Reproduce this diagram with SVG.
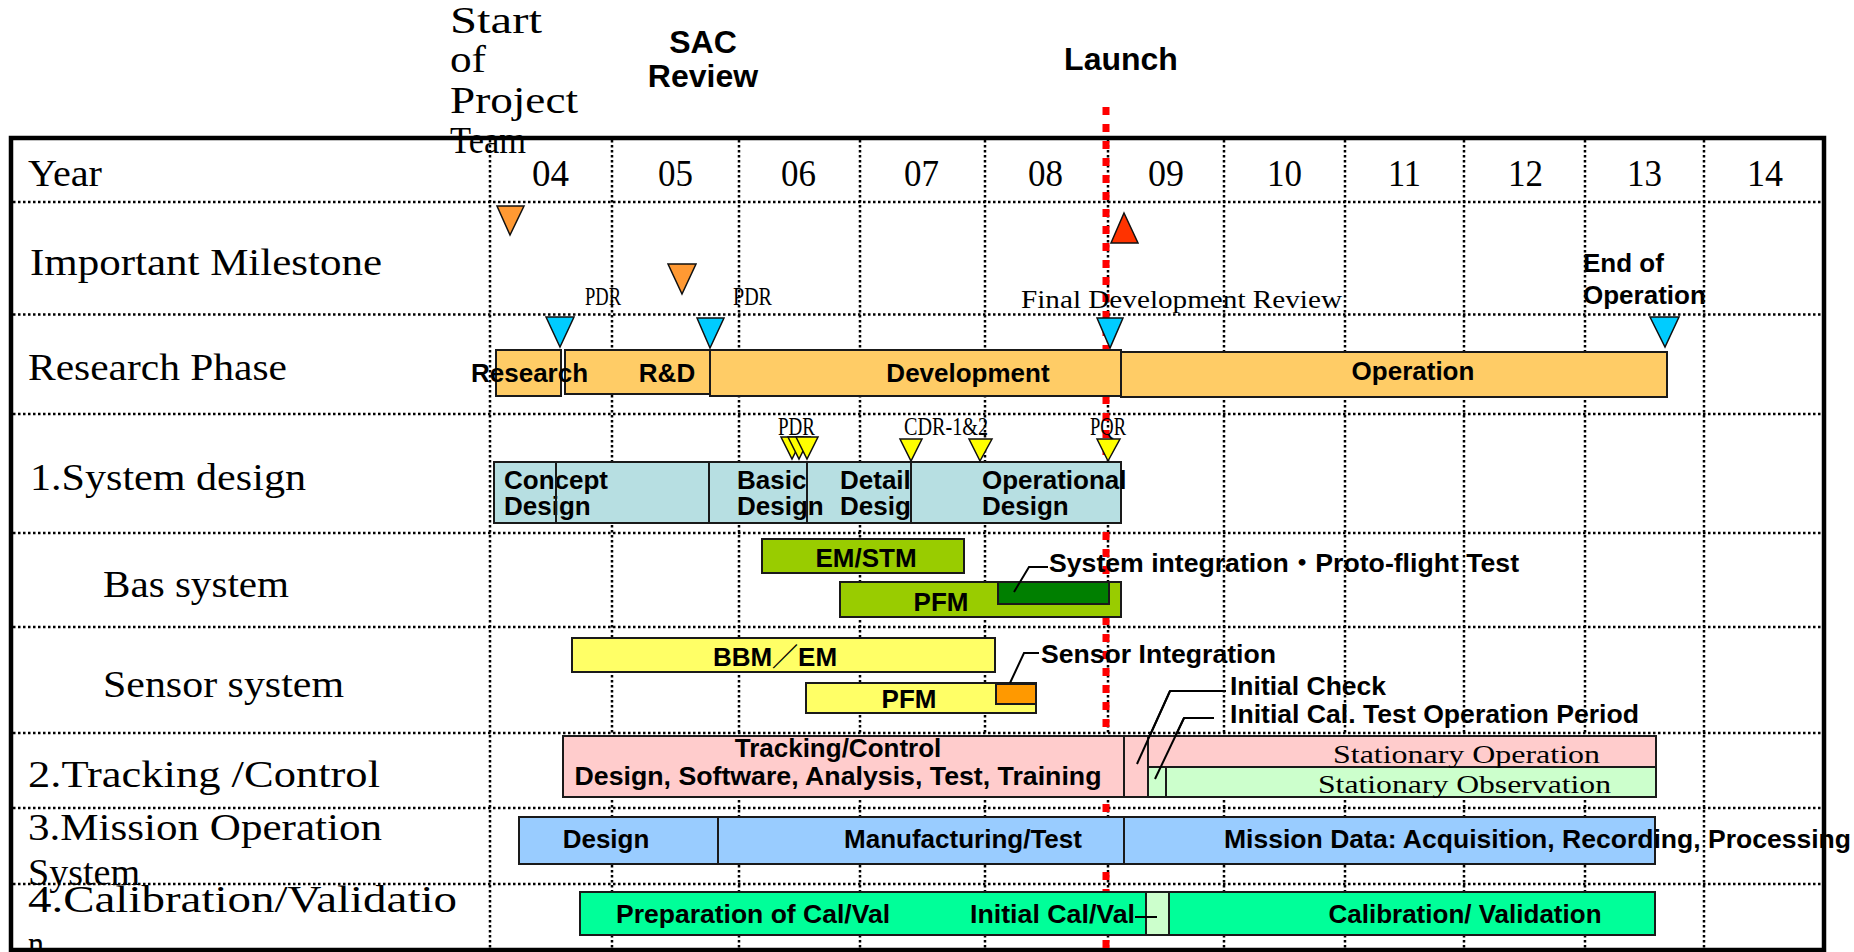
<svg xmlns="http://www.w3.org/2000/svg" width="1854" height="952" viewBox="0 0 1854 952">
<style>
.m{font-family:"Liberation Serif","Noto Sans CJK JP",serif;font-size:38px;fill:#000}
.ms{font-family:"Liberation Serif","Noto Sans CJK JP",serif;font-size:25px;fill:#000}
.b{font-family:"Liberation Sans","Noto Sans CJK JP",sans-serif;font-weight:bold;font-size:26px;fill:#000}
.bh{font-family:"Liberation Sans",sans-serif;font-weight:bold;font-size:32px;fill:#000}
.c{text-anchor:middle}
.grid{stroke:#000;stroke-width:2.5;stroke-dasharray:2.5 2.5;fill:none}
.box{stroke:#1a1a1a;stroke-width:2}
.tri{stroke:#111;stroke-width:1.5}
.call{fill:none;stroke:#000;stroke-width:2}
.ph{fill:#FFCC66}
.sd{fill:#B7DFE2}
.lg{fill:#99CC00}
.ye{fill:#FFFF66}
.pk{fill:#FFCCCC}
.lgr{fill:#CCFFCC}
.bl{fill:#99CCFF}
.gr{fill:#00FF99}
</style>
<rect width="1854" height="952" fill="#fff"/>
<g id="grid">
<path class="grid" d="M13 202H1822M13 314.5H1822M13 414H1822M13 533H1822M13 627H1822M13 733H1822M13 808H1822M13 884H1822"/>
<path class="grid" d="M490 140V950M612 140V950M739 140V950M860 140V950M985 140V950M1108 140V950M1224 140V950M1345 140V950M1464 140V950M1585 140V950M1704 140V950"/>
</g>
<g id="frame"><rect x="11" y="138" width="1813" height="812" fill="none" stroke="#000" stroke-width="4.5"/></g>
<g id="launch-line"><line x1="1106" y1="107" x2="1106" y2="952" stroke="#FF0000" stroke-width="7" stroke-dasharray="8 9"/></g>
<g id="row-labels">
<text class="m" x="28" y="186" textLength="74" lengthAdjust="spacingAndGlyphs">Year</text>
<text class="m" x="30" y="275" textLength="352" lengthAdjust="spacingAndGlyphs">Important Milestone</text>
<text class="m" x="28" y="380" textLength="259" lengthAdjust="spacingAndGlyphs">Research Phase</text>
<text class="m" x="30" y="490" textLength="276" lengthAdjust="spacingAndGlyphs">1.System design</text>
<text class="m" x="103" y="597" textLength="186" lengthAdjust="spacingAndGlyphs">Bas system</text>
<text class="m" x="103" y="697" textLength="241" lengthAdjust="spacingAndGlyphs">Sensor system</text>
<text class="m" x="28" y="787" textLength="352" lengthAdjust="spacingAndGlyphs">2.Tracking /Control</text>
<text class="m" x="28" y="840" textLength="354" lengthAdjust="spacingAndGlyphs">3.Mission Operation</text>
<text class="m" x="28" y="885" textLength="112" lengthAdjust="spacingAndGlyphs">System</text>
<text class="m" x="28" y="912" textLength="429" lengthAdjust="spacingAndGlyphs">4.Calibration/Validatio</text>
<text class="m" x="28" y="957" textLength="16" lengthAdjust="spacingAndGlyphs">n</text>
</g>
<g id="years">
<text class="m" x="532" y="186" textLength="37" lengthAdjust="spacingAndGlyphs">04</text>
<text class="m" x="658" y="186" textLength="35" lengthAdjust="spacingAndGlyphs">05</text>
<text class="m" x="781" y="186" textLength="35" lengthAdjust="spacingAndGlyphs">06</text>
<text class="m" x="904" y="186" textLength="35" lengthAdjust="spacingAndGlyphs">07</text>
<text class="m" x="1028" y="186" textLength="35" lengthAdjust="spacingAndGlyphs">08</text>
<text class="m" x="1148" y="186" textLength="36" lengthAdjust="spacingAndGlyphs">09</text>
<text class="m" x="1267" y="186" textLength="35" lengthAdjust="spacingAndGlyphs">10</text>
<text class="m" x="1388" y="186" textLength="33" lengthAdjust="spacingAndGlyphs">11</text>
<text class="m" x="1508" y="186" textLength="35" lengthAdjust="spacingAndGlyphs">12</text>
<text class="m" x="1627" y="186" textLength="35" lengthAdjust="spacingAndGlyphs">13</text>
<text class="m" x="1747" y="186" textLength="36" lengthAdjust="spacingAndGlyphs">14</text>
</g>
<g id="header">
<text class="m" x="450" y="33" textLength="92" lengthAdjust="spacingAndGlyphs">Start</text>
<text class="m" x="450" y="72" textLength="36" lengthAdjust="spacingAndGlyphs">of</text>
<text class="m" x="450" y="113" textLength="128" lengthAdjust="spacingAndGlyphs">Project</text>
<text class="m" x="450" y="153" textLength="76" lengthAdjust="spacingAndGlyphs">Team</text>
<text class="bh c" x="703" y="53">SAC</text>
<text class="bh c" x="703" y="87">Review</text>
<text class="bh c" x="1121" y="70">Launch</text>
</g>
<g id="milestones">
<polygon class="tri" fill="#FF9933" points="497,206 524,206 510,235"/>
<polygon class="tri" fill="#FF9933" points="668,264 696,264 682,294"/>
<polygon class="tri" fill="#FF3300" points="1124,213 1111,243 1138,243"/>
<text class="ms" x="585" y="305" textLength="36" lengthAdjust="spacingAndGlyphs">PDR</text>
<text class="ms" x="733" y="305" textLength="39" lengthAdjust="spacingAndGlyphs">PDR</text>
<text class="ms" x="1021" y="308" textLength="321" lengthAdjust="spacingAndGlyphs">Final Development Review</text>
<text class="b" x="1583" y="272">End of</text>
<text class="b" x="1583" y="304">Operation</text>
</g>
<g id="research-phase">
<rect class="box ph" x="496" y="350" width="65" height="46"/>
<rect class="box ph" x="565" y="350" width="145" height="44"/>
<rect class="box ph" x="710" y="350" width="411" height="46"/>
<rect class="box ph" x="1121" y="352" width="546" height="45"/>
<text class="b" x="471" y="382">Research</text>
<text class="b c" x="667" y="382">R&amp;D</text>
<text class="b c" x="968" y="382">Development</text>
<text class="b c" x="1413" y="380">Operation</text>
<polygon class="tri" fill="#00CCFF" points="546,317 574,317 560,347"/>
<polygon class="tri" fill="#00CCFF" points="697,318 724,318 710,348"/>
<polygon class="tri" fill="#00CCFF" points="1097,318 1123,318 1110,348"/>
<polygon class="tri" fill="#00CCFF" points="1650,317 1679,317 1665,347"/>
</g>
<g id="system-design">
<rect class="box sd" x="494" y="462" width="215" height="61"/>
<rect class="box sd" x="709" y="462" width="98" height="61"/>
<rect class="box sd" x="807" y="462" width="104" height="61"/>
<text class="b" x="504" y="489">Concept</text>
<text class="b" x="504" y="515">Design</text>
<text class="b" x="840" y="489">Detail</text>
<text class="b" x="840" y="515">Design</text>
<text class="b" x="737" y="489">Basic</text>
<text class="b" x="737" y="515">Design</text>
<line x1="556" y1="462" x2="556" y2="523" stroke="#1a1a1a" stroke-width="2"/>
<line x1="807" y1="462" x2="807" y2="523" stroke="#1a1a1a" stroke-width="2"/>
<rect class="box sd" x="911" y="462" width="210" height="61"/>
<text class="b" x="982" y="489">Operational</text>
<text class="b" x="982" y="515">Design</text>
<polygon class="tri" fill="#FFFF00" points="781,437 803,437 792,459"/>
<polygon class="tri" fill="#FFFF00" points="788,437 810,437 799,459"/>
<polygon class="tri" fill="#FFFF00" points="796,437 818,437 807,459"/>
<polygon class="tri" fill="#FFFF00" points="900,439 922,439 911,461"/>
<polygon class="tri" fill="#FFFF00" points="969,439 992,439 980,461"/>
<polygon class="tri" fill="#FFFF00" points="1097,439 1120,439 1108,461"/>
<text class="ms" x="778" y="435" textLength="37" lengthAdjust="spacingAndGlyphs">PDR</text>
<text class="ms" x="904" y="435" textLength="84" lengthAdjust="spacingAndGlyphs">CDR-1&amp;2</text>
<text class="ms" x="1090" y="435" textLength="36" lengthAdjust="spacingAndGlyphs">PQR</text>
</g>
<g id="bas-system">
<rect class="box lg" x="762" y="539" width="202" height="34"/>
<text class="b c" x="866" y="567">EM/STM</text>
<rect class="box lg" x="840" y="582" width="281" height="35"/>
<rect class="box" fill="#007F00" x="998" y="582" width="111" height="22"/>
<text class="b c" x="941" y="611">PFM</text>
<polyline class="call" points="1014,592 1029,567 1048,567"/>
<text class="b" x="1049" y="572" textLength="470" lengthAdjust="spacingAndGlyphs">System integration・Proto-flight Test</text>
</g>
<g id="sensor-system">
<rect class="box ye" x="572" y="638" width="423" height="34"/>
<text class="b c" x="775" y="666">BBM／EM</text>
<rect class="box ye" x="806" y="683" width="230" height="30"/>
<rect class="box" fill="#FF9900" x="996" y="684" width="40" height="20"/>
<text class="b c" x="909" y="708">PFM</text>
<polyline class="call" points="1010,683 1024,653 1039,653"/>
<text class="b" x="1041" y="663" textLength="235" lengthAdjust="spacingAndGlyphs">Sensor Integration</text>
<polyline class="call" points="1137,764 1170,691 1226,691"/>
<text class="b" x="1230" y="695" textLength="156" lengthAdjust="spacingAndGlyphs">Initial Check</text>
<polyline class="call" points="1155,779 1184,718 1214,718"/>
<text class="b" x="1230" y="723" textLength="409" lengthAdjust="spacingAndGlyphs">Initial Cal. Test Operation Period</text>
</g>
<g id="tracking-control">
<rect class="box pk" x="563" y="736" width="561" height="61"/>
<rect class="box pk" x="1124" y="736" width="24" height="61"/>
<rect class="box pk" x="1148" y="736" width="508" height="31"/>
<rect class="box lgr" x="1148" y="767" width="18" height="30"/>
<rect class="box lgr" x="1166" y="767" width="490" height="30"/>
<text class="b c" x="838" y="757">Tracking/Control</text>
<text class="b c" x="838" y="785" textLength="527" lengthAdjust="spacingAndGlyphs">Design, Software, Analysis, Test, Training</text>
<text class="ms" x="1333" y="763" font-size="26" textLength="267" lengthAdjust="spacingAndGlyphs">Stationary Operation</text>
<text class="ms" x="1318" y="793" font-size="26" textLength="293" lengthAdjust="spacingAndGlyphs">Stationary Observation</text>
<polyline class="call" points="1137,764 1170,691"/>
<polyline class="call" points="1155,779 1184,718"/>
</g>
<g id="mission-operation">
<rect class="box bl" x="519" y="817" width="199" height="47"/>
<rect class="box bl" x="718" y="817" width="406" height="47"/>
<rect class="box bl" x="1124" y="817" width="531" height="47"/>
<text class="b c" x="606" y="848">Design</text>
<text class="b c" x="963" y="848">Manufacturing/Test</text>
<text class="b" x="1224" y="848" textLength="627" lengthAdjust="spacingAndGlyphs">Mission Data: Acquisition, Recording, Processing</text>
</g>
<g id="calibration">
<rect class="box gr" x="580" y="892" width="566" height="43"/>
<rect class="box lgr" x="1146" y="892" width="23" height="43"/>
<rect class="box gr" x="1169" y="892" width="486" height="43"/>
<text class="b" x="616" y="923" textLength="274" lengthAdjust="spacingAndGlyphs">Preparation of Cal/Val</text>
<text class="b" x="970" y="923" textLength="165" lengthAdjust="spacingAndGlyphs">Initial Cal/Val</text>
<line class="call" x1="1135" y1="917" x2="1157" y2="917"/>
<text class="b c" x="1465" y="923">Calibration/ Validation</text>
</g>
</svg>
